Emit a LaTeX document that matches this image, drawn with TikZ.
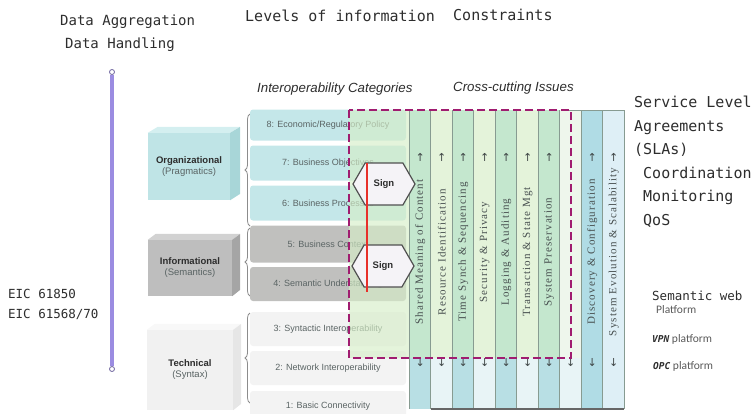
\documentclass[tikz,border=0pt]{standalone}
\usepackage{fontspec}
\setmainfont{Liberation Sans}
\newfontfamily\handfont{DejaVu Sans Mono}
\newfontfamily\colfont[LetterSpace=10]{Liberation Serif}
\newfontfamily\calfont{Carlito}
\newfontfamily\symfont{DejaVu Sans}
\usetikzlibrary{positioning,shapes.symbols,decorations.pathreplacing}

\definecolor{inkgray}{RGB}{45,45,45}
\definecolor{lavline}{RGB}{155,140,225}
\definecolor{slapurple}{RGB}{160,28,112}
\definecolor{orgfront}{RGB}{191,228,230}
\definecolor{orgtop}{RGB}{212,239,240}
\definecolor{orgside}{RGB}{168,214,216}
\definecolor{infofront}{RGB}{190,190,190}
\definecolor{infotop}{RGB}{210,210,210}
\definecolor{infoside}{RGB}{165,165,165}
\definecolor{techfront}{RGB}{241,241,241}
\definecolor{techtop}{RGB}{248,248,248}
\definecolor{techside}{RGB}{230,230,230}
\definecolor{orgbar}{RGB}{196,231,233}
\definecolor{infobar}{RGB}{192,192,190}
\definecolor{techbar}{RGB}{243,243,243}
\definecolor{greencol}{RGB}{196,231,206}
\definecolor{palecol}{RGB}{228,243,218}
\definecolor{tealcol}{RGB}{184,223,228}
\definecolor{whitecol}{RGB}{232,244,246}
\definecolor{emptycol}{RGB}{238,246,236}
\definecolor{disccol}{RGB}{176,220,229}
\definecolor{evocol}{RGB}{222,239,246}
\definecolor{colline}{RGB}{135,155,145}
\definecolor{panelgreen}{RGB}{214,238,200}
\definecolor{hexfill}{RGB}{245,243,247}
\definecolor{hexline}{RGB}{80,80,80}
\definecolor{signred}{RGB}{232,48,42}
\definecolor{textgray}{RGB}{90,100,100}

\begin{document}
\begin{tikzpicture}[x=1pt,y=-1pt,
    head/.style={font=\handfont\fontsize{15}{17}\selectfont, text=inkgray, anchor=base west, inner sep=0pt},
    reftext/.style={font=\handfont\fontsize{12.5}{14}\selectfont, text=inkgray, anchor=base west, inner sep=0pt},
    platform/.style={font=\calfont\fontsize{11.5}{13}\selectfont, text=black!65, anchor=base west, inner sep=0pt},
    subhead/.style={font=\itshape\fontsize{13.3}{15}\selectfont, text=inkgray, anchor=base west, inner sep=0pt},
    layerbox/.style={inner sep=0pt, align=center, font=\fontsize{9.5}{11}\selectfont, text=inkgray},
    bar/.style={rounded corners=3pt, minimum width=156, inner sep=0pt, font=\fontsize{9}{10}\selectfont, text=textgray},
    coltext/.style={rotate=90, font=\colfont\fontsize{11}{12}\selectfont, text=textgray!80!black, inner sep=0pt},
    arrowmark/.style={font=\symfont\fontsize{11}{12}\selectfont, text=textgray!70!black, inner sep=0pt},
    signbox/.style={shape=signal, signal to=east and west, signal pointer angle=120, draw=hexline, fill=hexfill, line width=1.2pt, minimum width=62, minimum height=42, inner sep=0pt, font=\bfseries\fontsize{9.5}{11}\selectfont, text=inkgray},
    endpt/.style={circle, draw=lavline!70!black, fill=white, line width=0.8pt, inner sep=0pt, minimum size=5},
    levelbrace/.style={decorate, decoration={brace, amplitude=5pt}, draw=black!45, line width=0.8pt}]
  \useasboundingbox (0,0) rectangle (752,413);

  \node[head, font=\handfont\fontsize{14}{16}\selectfont] (aggregation) at (60,25) {Data Aggregation};
  \node[head, font=\handfont\fontsize{14}{16}\selectfont] (handling) at (65,48) {Data Handling};
  \node[head] (levels) at (245,21) {Levels of information};
  \node[head] (constraints) at (453,20) {Constraints};

  \node[endpt] (linetop) at (112,72) {};
  \node[endpt] (linebot) at (112,369) {};
  \draw[lavline, line width=4.5pt] (linetop) -- (linebot);

  \node[reftext] (eic1) at (8,298) {EIC 61850};
  \node[reftext] (eic2) at (8,318) {EIC 61568/70};

  \node[layerbox, fill=orgfront, minimum width=82, minimum height=67] (org) at (189,166.5) {\bfseries Organizational\\{\color{textgray}(Pragmatics)}};
  \fill[orgtop] (org.north west) -- ++(10,-6) -- ++(82,0) -- (org.north east) -- cycle;
  \fill[orgside] (org.north east) -- ++(10,-6) -- ++(0,67) -- (org.south east) -- cycle;
  \node[layerbox, fill=infofront, minimum width=84, minimum height=56] (info) at (190,268) {\bfseries Informational\\{\color{textgray}(Semantics)}};
  \fill[infotop] (info.north west) -- ++(8,-6) -- ++(84,0) -- (info.north east) -- cycle;
  \fill[infoside] (info.north east) -- ++(8,-6) -- ++(0,56) -- (info.south east) -- cycle;
  \node[layerbox, fill=techfront, minimum width=86, minimum height=80] (tech) at (190,370) {\bfseries Technical\\{\color{textgray}(Syntax)}};
  \fill[techtop] (tech.north west) -- ++(8,-6) -- ++(86,0) -- (tech.north east) -- cycle;
  \fill[techside] (tech.north east) -- ++(8,-6) -- ++(0,80) -- (tech.south east) -- cycle;

  \draw[levelbrace] (250,226) -- (250,114);
  \draw[levelbrace] (250,296) -- (250,228);
  \draw[levelbrace] (250,403) -- (250,313);

  \node[bar, fill=orgbar, minimum height=31] (cat8) at (328,125) {8: Economic/Regulatory Policy};
  \node[bar, fill=orgbar, minimum height=35] (cat7) at (328,163) {7: Business Objectives};
  \node[bar, fill=orgbar, minimum height=35] (cat6) at (328,203) {6: Business Processes};
  \node[bar, fill=infobar, minimum height=37] (cat5) at (328,244) {5: Business Context};
  \node[bar, fill=infobar, minimum height=34] (cat4) at (328,284) {4: Semantic Understanding};
  \node[bar, fill=techbar, minimum height=34] (cat3) at (328,329) {3: Syntactic Interoperability};
  \node[bar, fill=techbar, minimum height=34] (cat2) at (328,368) {2: Network Interoperability};
  \node[bar, fill=techbar, minimum height=30] (cat1) at (328,406) {1: Basic Connectivity};

  \foreach \i/\topc/\botc in {1/greencol/tealcol, 2/palecol/whitecol, 3/greencol/tealcol, 4/palecol/whitecol,
      5/greencol/tealcol, 6/palecol/whitecol, 7/greencol/tealcol, 8/emptycol/whitecol, 9/disccol/disccol, 10/evocol/evocol} {
    \fill[\topc] ({387.5+21.5*\i},110) rectangle ++(21.5,248);
    \fill[\botc] ({387.5+21.5*\i},358) rectangle ++(21.5,51);
  }
  \foreach \i in {0,...,10}
    \draw[colline, line width=0.8pt] ({409+21.5*\i},110) -- ++(0,299);
  \draw[colline, line width=0.8pt] (561,110) -- (624,110);
  \draw[black!60, line width=1.3pt] (430.5,409) -- (624,409);
  \fill[panelgreen, fill opacity=0.65] (349,110) rectangle (409,358);

  \foreach \i/\name in {1/Shared Meaning of Content, 2/Resource Identification, 3/Time Synch \& Sequencing,
      4/Security \& Privacy, 5/Logging \& Auditing, 6/Transaction \& State Mgt, 7/System Preservation,
      9/Discovery \& Configuration, 10/System Evolution \& Scalability}
    \node[coltext] (issue\i) at ({398.75+21.5*\i},252) {\name};
  \foreach \i in {1,...,7,9,10}
    \node[arrowmark] (up\i) at ({398.75+21.5*\i},157) {↑};
  \foreach \i in {1,...,10}
    \node[arrowmark] (down\i) at ({398.75+21.5*\i},363) {↓};

  \draw[slapurple, line width=2.6pt, dash pattern=on 8pt off 4pt] (349,110) rectangle (571,358);

  \node[signbox] (sign1) at (384,184) {Sign};
  \node[signbox] (sign2) at (383,266) {Sign};
  \coordinate (redtop) at (367,163);
  \coordinate (redbot) at (367,292);
  \draw[signred, line width=1.4pt] (redtop) -- (redbot);

  \node[subhead] (catlabel) at (257,92) {Interoperability Categories};
  \node[subhead] (issuelabel) at (453,91) {Cross-cutting Issues};

  \node[head] (sla1) at (634,107.5) {Service Level};
  \node[head] (sla2) at (634,131) {Agreements};
  \node[head] (sla3) at (634,154.5) {(SLAs)};
  \node[head] (sla4) at (643,178) {Coordination};
  \node[head] (sla5) at (643,201.5) {Monitoring};
  \node[head] (sla6) at (643,225) {QoS};

  \node[reftext] (semweb) at (652,300) {Semantic web};
  \node[platform] (semplat) at (656,313) {Platform};
  \node[platform] (vpn) at (652,342) {{\handfont\bfseries\itshape\fontsize{9.5}{11}\selectfont\color{inkgray}VPN} platform};
  \node[platform] (opc) at (653,369) {{\handfont\bfseries\itshape\fontsize{9.5}{11}\selectfont\color{inkgray}OPC} platform};
\end{tikzpicture}
\end{document}
